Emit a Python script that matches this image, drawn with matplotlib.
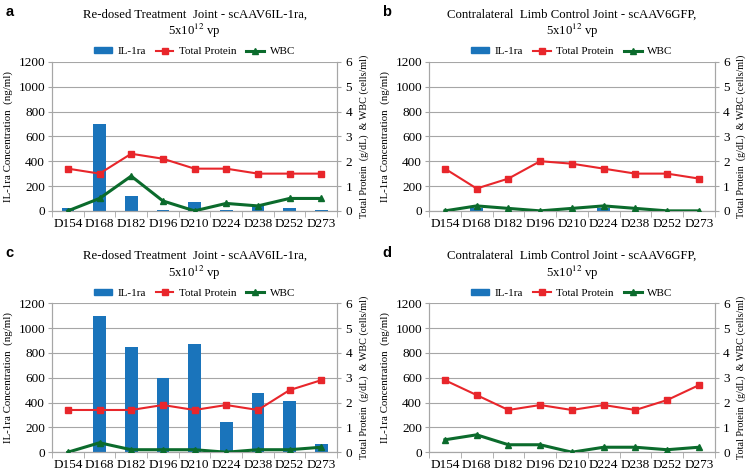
import matplotlib.pyplot as plt
from matplotlib.lines import Line2D
from matplotlib.patches import Patch

days = ["D154", "D168", "D182", "D196", "D210", "D224", "D238", "D252", "D273"]

il1ra_a = [25, 700, 120, 10, 75, 5, 40, 25, 5]
protein_a = [1.7, 1.5, 2.3, 2.1, 1.7, 1.7, 1.5, 1.5, 1.5]
wbc_a = [0, 0.5, 1.4, 0.4, 0, 0.3, 0.2, 0.5, 0.5]

il1ra_b = [0, 20, 0, 0, 0, 20, 0, 0, 0]
protein_b = [1.7, 0.9, 1.3, 2.0, 1.9, 1.7, 1.5, 1.5, 1.3]
wbc_b = [0, 0.2, 0.1, 0, 0.1, 0.2, 0.1, 0, 0]

il1ra_c = [5, 1100, 845, 600, 870, 240, 480, 410, 65]
protein_c = [1.7, 1.7, 1.7, 1.9, 1.7, 1.9, 1.7, 2.5, 2.9]
wbc_c = [0, 0.38, 0.1, 0.1, 0.1, 0, 0.1, 0.1, 0.2]

il1ra_d = [0, 0, 0, 0, 0, 0, 0, 0, 0]
protein_d = [2.9, 2.3, 1.7, 1.9, 1.7, 1.9, 1.7, 2.1, 2.7]
wbc_d = [0.5, 0.7, 0.3, 0.3, 0, 0.2, 0.2, 0.1, 0.2]

title_treat = "Re-dosed Treatment  Joint - scAAV6IL-1ra,\n5x10$^{12}$ vp"
title_ctrl = "Contralateral  Limb Control Joint - scAAV6GFP,\n5x10$^{12}$ vp"

BLUE = "#1a74bb"
RED = "#e8262b"
GREEN = "#0b6b2c"
GRID = "#a6a6a6"
SERIF = ["Liberation Serif", "DejaVu Serif"]

plt.rcParams["font.family"] = SERIF
plt.rcParams["mathtext.fontset"] = "stix"

fig = plt.figure(figsize=(7.54, 4.76), dpi=100)


def panel(rect, letter, title, il1ra, protein, wbc):
    ax = fig.add_axes(rect)
    x = range(len(days))
    ax.bar(x, il1ra, width=0.4, color=BLUE, zorder=2)
    ax.set_ylim(0, 1200)
    ax.set_yticks(range(0, 1201, 200))
    ax.set_xlim(-0.5, len(days) - 0.5)
    ax.set_xticks(list(x))
    ax.set_xticklabels(days)
    ax.set_xticks([i - 0.5 for i in range(len(days) + 1)], minor=True)
    ax.tick_params(axis="x", which="major", length=0, labelsize=9.5, pad=5)
    ax.tick_params(axis="x", which="minor", length=4, color=GRID)
    ax.tick_params(axis="y", labelsize=9.5, length=3, color=GRID, pad=2)
    ax.grid(axis="y", color=GRID, linewidth=0.8, zorder=0)
    ax.set_axisbelow(True)
    for s in ax.spines.values():
        s.set_color(GRID)
    ax.spines["top"].set_visible(False)
    ax.set_ylabel("IL-1ra Concentration  (ng/ml)", fontsize=7.8, labelpad=4)

    ax2 = ax.twinx()
    ax2.plot(x, protein, color=RED, marker="s", markersize=4.5, linewidth=1.5, zorder=3)
    ax2.plot(x, wbc, color=GREEN, marker="^", markersize=4.5, linewidth=2.2, zorder=3)
    ax2.set_ylim(0, 6)
    ax2.set_yticks(range(0, 7))
    ax2.tick_params(axis="y", labelsize=9.5, length=3, color=GRID, pad=3)
    for s in ax2.spines.values():
        s.set_color(GRID)
    ax2.spines["top"].set_visible(False)
    ax2.set_ylabel("Total Protein  (g/dL)  & WBC (cells/ml)", fontsize=7.3, labelpad=5)

    handles = [
        Patch(color=BLUE),
        Line2D([], [], color=RED, marker="s", markersize=4.5, linewidth=1.5),
        Line2D([], [], color=GREEN, marker="^", markersize=4.5, linewidth=2.2),
    ]
    leg = ax.legend(handles, ["IL-1ra", "Total Protein", "WBC"], loc="lower center",
                    bbox_to_anchor=(0.5, 1.0), ncol=3, frameon=False, fontsize=8,
                    handlelength=1.6, handleheight=0.45, columnspacing=0.9,
                    handletextpad=0.5, borderaxespad=0.1)
    for t in leg.get_texts():
        t.set_fontfamily(SERIF)
    ax.set_title(title, fontsize=9.2, pad=19, linespacing=1.15)
    fig.text(rect[0] - 0.062, rect[1] + rect[3] + 0.105, letter, fontsize=10.5,
             fontweight="bold", family="Liberation Sans", va="center")


panel([0.069, 0.557, 0.378, 0.313], "a", title_treat, il1ra_a, protein_a, wbc_a)
panel([0.569, 0.557, 0.379, 0.313], "b", title_ctrl, il1ra_b, protein_b, wbc_b)
panel([0.069, 0.050, 0.378, 0.313], "c", title_treat, il1ra_c, protein_c, wbc_c)
panel([0.569, 0.050, 0.379, 0.313], "d", title_ctrl, il1ra_d, protein_d, wbc_d)

fig.savefig("out.png", dpi=100)
